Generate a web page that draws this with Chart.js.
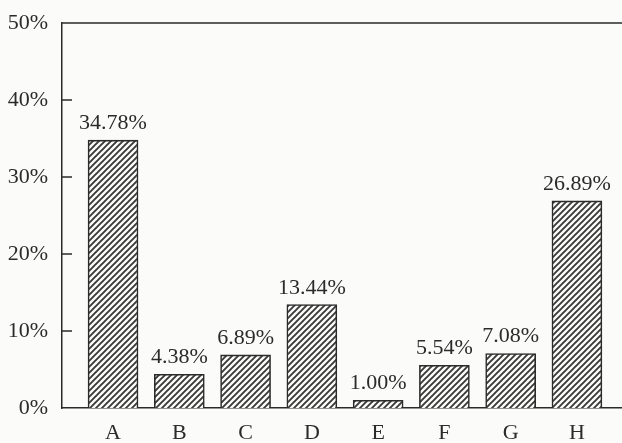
<!DOCTYPE html>
<html>
<head>
<meta charset="utf-8">
<script src="https://cdn.jsdelivr.net/npm/chart.js@4/dist/chart.umd.min.js"></script>
<style>
  html, body { margin: 0; padding: 0; background: #fbfbfa; }
  #wrap { width: 622px; height: 443px; }
</style>
</head>
<body>
<div id="wrap"><canvas id="barChart"></canvas></div>
<script>
const categories = ["A", "B", "C", "D", "E", "F", "G", "H"];
const shares = [34.78, 4.38, 6.89, 13.44, 1.00, 5.54, 7.08, 26.89];
const valueLabels = ["34.78%", "4.38%", "6.89%", "13.44%", "1.00%", "5.54%", "7.08%", "26.89%"];
const yTicks = [0, 10, 20, 30, 40, 50];

const ink = "#2b2b2b";
const serif = "'Liberation Serif', 'DejaVu Serif', serif";

// diagonal hatch fill like the printed figure
function makeHatch() {
  const s = 6;
  const c = document.createElement("canvas");
  c.width = s; c.height = s;
  const g = c.getContext("2d");
  g.fillStyle = "#fbfbfa";
  g.fillRect(0, 0, s, s);
  g.strokeStyle = "#3a3a3a";
  g.lineWidth = 1.9;
  g.beginPath();
  g.moveTo(-1, s + 1); g.lineTo(s + 1, -1);
  g.moveTo(-2, 2); g.lineTo(2, -2);
  g.moveTo(s - 2, s + 2); g.lineTo(s + 2, s - 2);
  g.stroke();
  return g.createPattern(c, "repeat");
}

// top frame line, inward tick marks and value labels
const extras = {
  id: "extras",
  afterDatasetsDraw(chart) {
    const ctx = chart.ctx;
    const area = chart.chartArea;
    const y = chart.scales.y;
    ctx.save();
    ctx.strokeStyle = ink;
    ctx.lineWidth = 1.5;
    ctx.beginPath();
    ctx.moveTo(area.left, area.top);
    ctx.lineTo(area.right, area.top);
    yTicks.slice(1, -1).forEach((v) => {
      const py = y.getPixelForValue(v);
      ctx.moveTo(area.left, py);
      ctx.lineTo(area.left + 10, py);
    });
    ctx.stroke();

    ctx.fillStyle = ink;
    ctx.font = "22px " + serif;
    ctx.textAlign = "center";
    ctx.textBaseline = "alphabetic";
    chart.getDatasetMeta(0).data.forEach((bar, i) => {
      ctx.fillText(valueLabels[i], bar.x, bar.y - 11);
    });
    ctx.restore();
  }
};

new Chart(document.getElementById("barChart"), {
  type: "bar",
  data: {
    datasets: [
      {
        data: shares.map((v, i) => ({ x: i, y: v })),
        backgroundColor: makeHatch(),
        borderColor: ink,
        borderWidth: 1.6,
        borderSkipped: "bottom",
        barThickness: 50
      }
    ]
  },
  options: {
    responsive: true,
    maintainAspectRatio: false,
    animation: false,
    devicePixelRatio: 1,
    layout: { padding: { top: 23, right: 0, bottom: 0, left: 0 } },
    plugins: { legend: { display: false }, tooltip: { enabled: false } },
    scales: {
      x: {
        type: "linear",
        offset: false,
        min: -0.77,
        max: 7.68,
        grid: { display: false },
        border: { display: true, color: ink, width: 1.5 },
        afterBuildTicks: (scale) => {
          scale.ticks = categories.map((_, i) => ({ value: i }));
        },
        afterFit: (scale) => { scale.height = 35; },
        ticks: {
          autoSkip: false,
          maxRotation: 0,
          padding: 4,
          color: ink,
          font: { family: serif, size: 22 },
          callback: (v) => categories[v]
        }
      },
      y: {
        min: 0,
        max: 50,
        grid: { display: false },
        border: { display: true, color: ink, width: 1.5 },
        afterBuildTicks: (scale) => {
          scale.ticks = yTicks.map((v) => ({ value: v }));
        },
        afterFit: (scale) => { scale.width = 62; },
        ticks: {
          padding: 6,
          color: ink,
          font: { family: serif, size: 22 },
          callback: (v) => v + "%"
        }
      }
    }
  },
  plugins: [extras]
});
</script>
</body>
</html>
